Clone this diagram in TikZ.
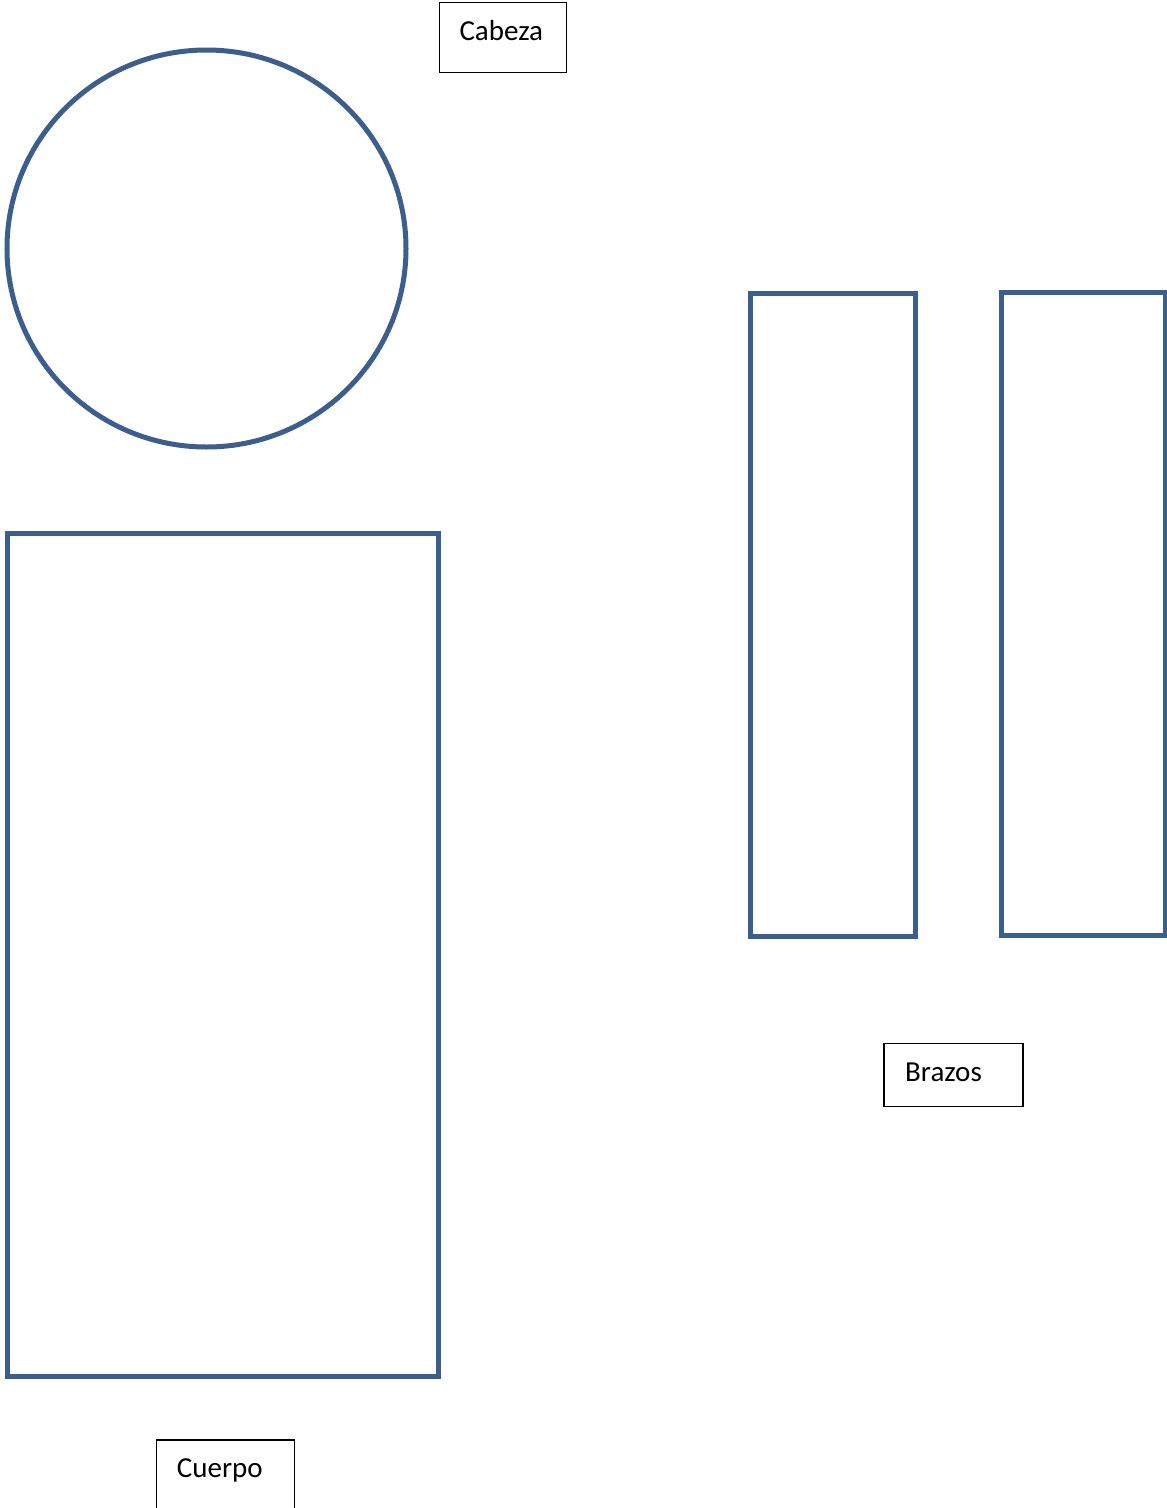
\documentclass[tikz,border=0pt]{standalone}
\usepackage{fontspec}
\setmainfont{Carlito}
\definecolor{shapeblue}{HTML}{3B5E8C}
\begin{document}
\begin{tikzpicture}[x=1pt,y=-1pt,
  part/.style={draw=shapeblue,line width=5pt},
  labelbox/.style={draw=black,line width=1.4pt,inner sep=0pt,anchor=north west},
  labeltext/.style={anchor=base west,inner sep=0pt,font=\fontsize{29}{35}\selectfont}]
\clip (0,0) rectangle (1167,1508);
\fill[white] (0,0) rectangle (1167,1508);
% head
\draw[part] (206.5,248.5) ellipse [x radius=199.5,y radius=198.5];
% body
\draw[part] (7.3,533) rectangle (438.7,1376);
% arms
\draw[part] (750,293.3) rectangle (915,936);
\draw[part] (1001,292.5) rectangle (1165,935);
% labels
\node[labelbox,minimum width=126.7pt,minimum height=70pt] (cabezabox) at (439,1.7) {};
\node[labeltext] (cabeza) at (459.3,40) {Cabeza};
\node[labelbox,minimum width=139pt,minimum height=63.3pt] (brazosbox) at (883.3,1042.7) {};
\node[labeltext] (brazos) at (905,1081) {Brazos};
\node[labelbox,minimum width=138.3pt,minimum height=90pt] (cuerpobox) at (155.7,1439.3) {};
\node[labeltext] (cuerpo) at (176.7,1477.3) {Cuerpo};
\end{tikzpicture}
\end{document}
